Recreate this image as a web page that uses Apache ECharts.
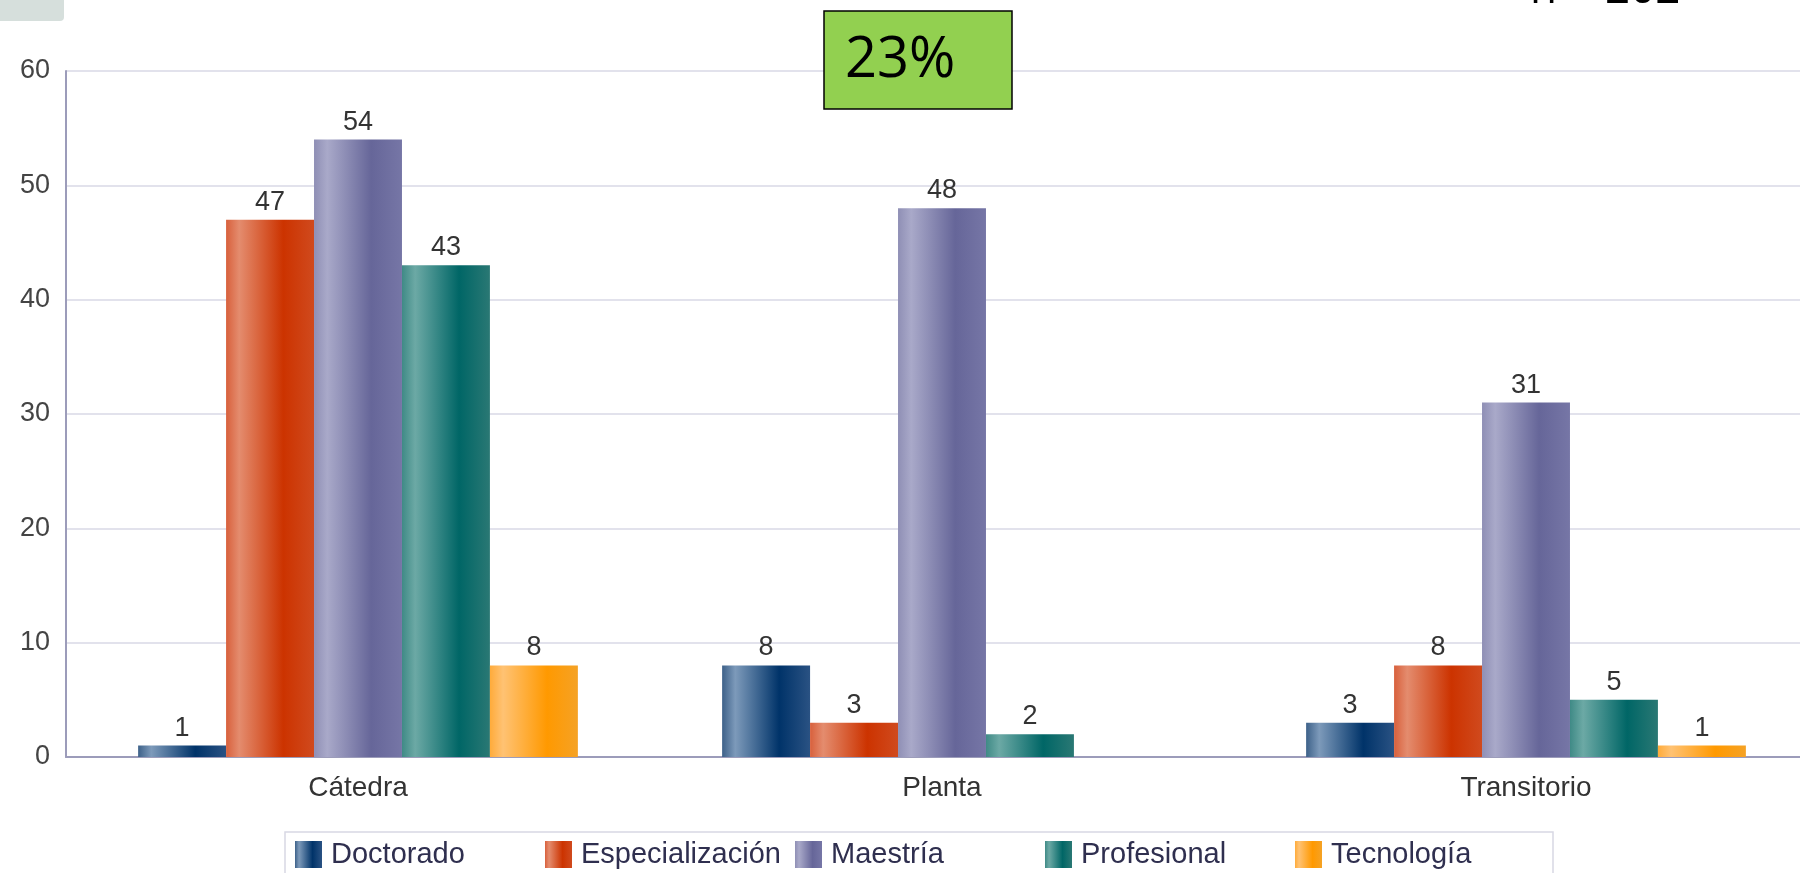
<!DOCTYPE html>
<html>
<head>
<meta charset="utf-8">
<script src="https://cdn.jsdelivr.net/npm/echarts@6/dist/echarts.min.js"></script>
<style>
html,body{margin:0;padding:0;background:#fff;overflow:hidden;width:1800px;height:873px;}
#chart{width:1818px;height:873px;}
</style>
</head>
<body>
<div id="chart"></div>
<script>
const categories = ['Cátedra', 'Planta', 'Transitorio'];
const seriesNames = ['Doctorado', 'Especialización', 'Maestría', 'Profesional', 'Tecnología'];
const doctorado = [1, 8, 3];
const especializacion = [47, 3, 8];
const maestria = [54, 48, 31];
const profesional = [43, 2, 5];
const tecnologia = [8, null, 1];
const yTicks = [0, 10, 20, 30, 40, 50, 60];
const badgeText = '23%';
const cornerText = 'n = 202';

const values = [doctorado, especializacion, maestria, profesional, tecnologia];
const gradStops = [
  ['#3d6189', '#7d9aba', '#003369', '#2a5283'],
  ['#d8603c', '#e48c6e', '#cc3300', '#d04a1e'],
  ['#8f8fb5', '#a9a9c9', '#666699', '#7676a6'],
  ['#3f8a86', '#6ca9a5', '#006666', '#2a7874'],
  ['#ffab3a', '#ffc273', '#ff9900', '#f5a225']
];
function grad(c) {
  return new echarts.graphic.LinearGradient(0, 0, 1, 0, [
    {offset: 0, color: c[0]},
    {offset: 0.15, color: c[1]},
    {offset: 0.65, color: c[2]},
    {offset: 1, color: c[3]}
  ]);
}

const legends = seriesNames.map((name, i) => ({
  left: 295 + 250 * i,
  top: 840,
  padding: 0,
  itemWidth: 27,
  itemHeight: 27,
  icon: 'rect',
  data: [name],
  selectedMode: false,
  textStyle: {fontSize: 29, color: '#2f2f4f', fontFamily: 'Liberation Sans', padding: [0, 0, 0, 4]}
}));

const chart = echarts.init(document.getElementById('chart'));
chart.setOption({
  animation: false,
  backgroundColor: '#ffffff',
  grid: {left: 66, right: 0, top: 71, bottom: 116, containLabel: false},
  xAxis: {
    type: 'category',
    data: categories,
    axisLine: {lineStyle: {color: '#9c9cba', width: 2}},
    axisTick: {show: false},
    axisLabel: {fontSize: 28, color: '#333', margin: 17, fontFamily: 'Liberation Sans'}
  },
  yAxis: {
    type: 'value',
    min: yTicks[0],
    max: yTicks[yTicks.length - 1],
    interval: yTicks[1] - yTicks[0],
    axisLine: {show: true, lineStyle: {color: '#9c9cba', width: 2}},
    axisTick: {show: false},
    splitLine: {lineStyle: {color: '#e2e2ec', width: 2}},
    axisLabel: {fontSize: 27, color: '#444', margin: 16, fontFamily: 'Liberation Sans'}
  },
  legend: legends,
  graphic: [
    {type: 'rect', left: 0, top: 0, shape: {width: 64, height: 21, r: [0, 0, 4, 0]}, style: {fill: '#d6dfdc'}},
    {type: 'rect', shape: {x: 824, y: 11, width: 188, height: 98}, style: {fill: '#92d050', stroke: '#000', lineWidth: 1.5}, z: 10},
    {type: 'text', x: 845, y: 61, style: {text: badgeText, font: '56px "Open Sans"', fill: '#000', verticalAlign: 'middle'}, z: 11},
    {type: 'text', x: 1530, y: -10, style: {text: cornerText, font: '44px "Open Sans"', fill: '#000', verticalAlign: 'middle'}, z: 11},
    {type: 'rect', shape: {x: 285, y: 832, width: 1268, height: 60}, style: {fill: 'none', stroke: '#d8d8e4', lineWidth: 1.5}, z: 0}
  ],
  series: seriesNames.map((name, i) => ({
    name: name,
    type: 'bar',
    data: values[i],
    barGap: '0%',
    barCategoryGap: '24.7%',
    itemStyle: {color: grad(gradStops[i])},
    label: {show: true, position: 'top', distance: 4, fontSize: 27, color: '#333', fontFamily: 'Liberation Sans'}
  }))
});
</script>
</body>
</html>
